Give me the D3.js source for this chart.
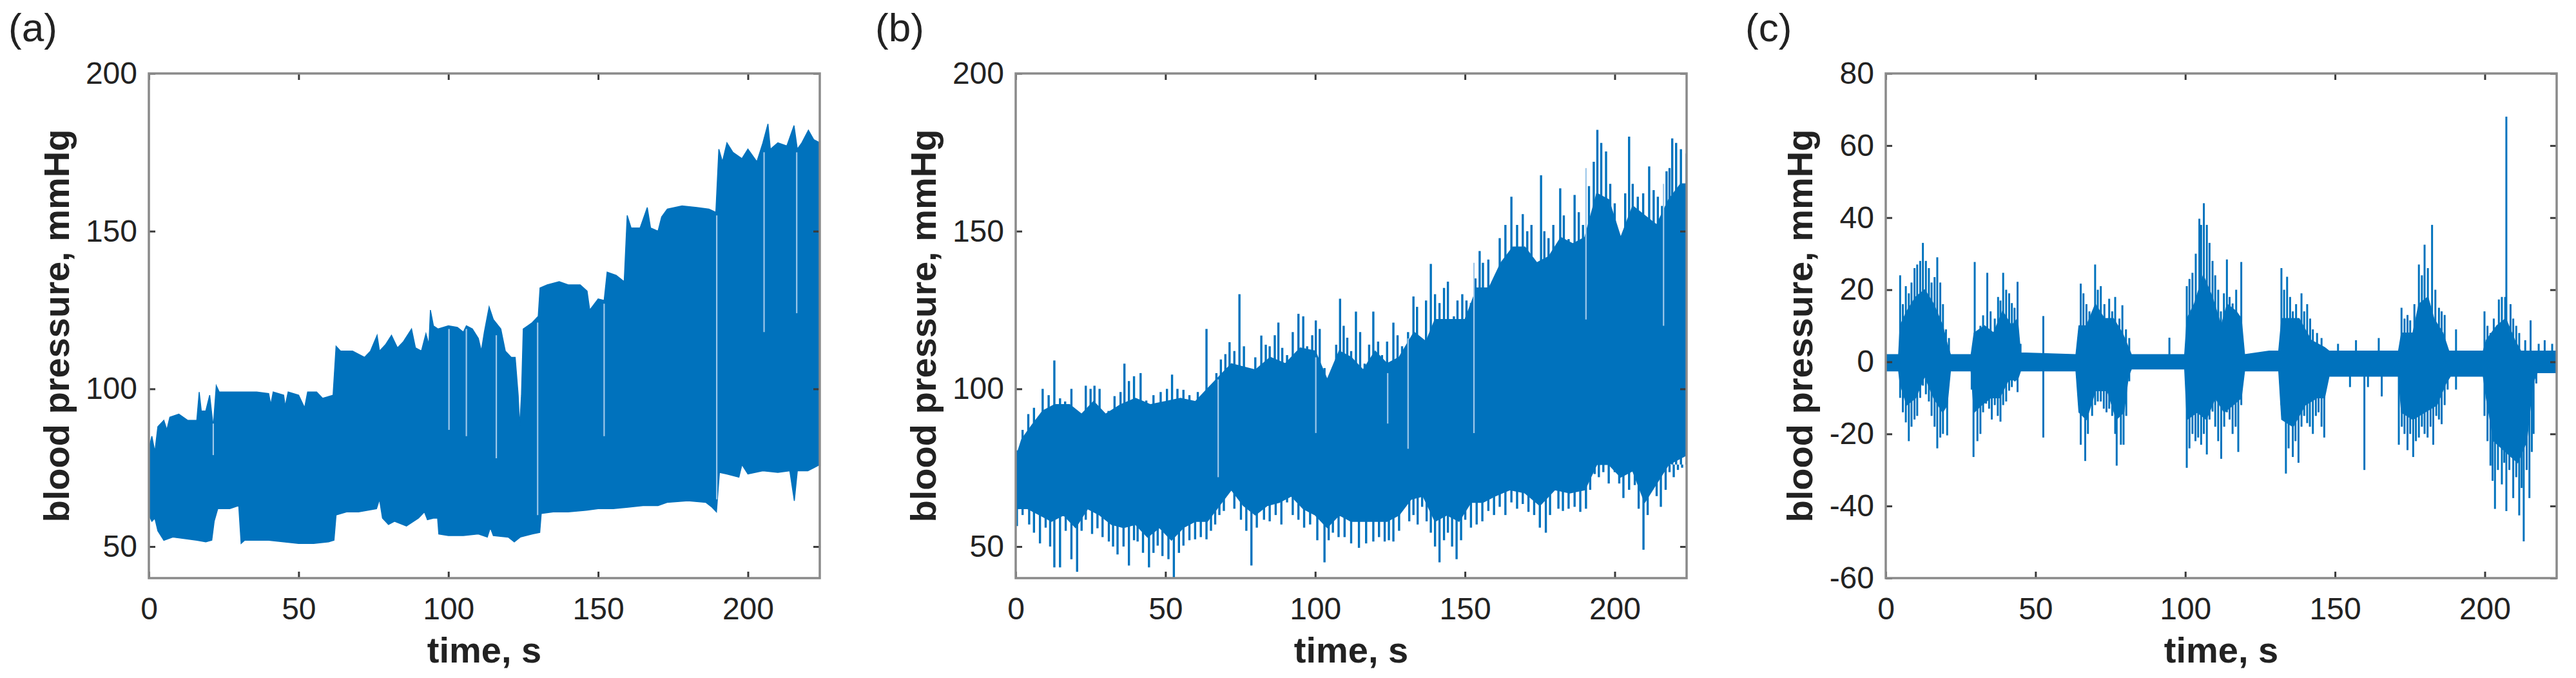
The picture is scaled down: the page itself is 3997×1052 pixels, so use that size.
<!DOCTYPE html>
<html>
<head>
<meta charset="utf-8">
<script src="https://cdn.jsdelivr.net/npm/d3@7"></script>
<style>
  html, body { margin: 0; padding: 0; background: #fff; }
  svg { display: block; }
</style>
</head>
<body>
<svg id="chart" width="3997" height="1052"></svg>
<script>
// ---------------- DATA ----------------
const xTicks = [0, 50, 100, 150, 200];
const yTicksAB = [50, 100, 150, 200];
const yTicksC = [-60, -40, -20, 0, 20, 40, 60, 80];
const yTickLabelsC = ["-60", "-40", "-20", "0", "20", "40", "60", "80"];
const panelLabels = ["(a)", "(b)", "(c)"];
const xTitle = "time, s";
const yTitle = "blood pressure, mmHg";

// Panel (a): upper / lower envelope of the pressure signal [time s, mmHg]
const aCoreUpper = [[0,81],[1,85],[2,80],[3,88],[5,90],[6,87],[7,91],[10,92],[13,90],[16,90],[16.8,99],[17.5,93],[19,93],[20.3,98],[21,92],[21.5,88],[22.5,101],[23.5,99],[30,99],[36,99],[40,98.5],[40.7,95],[41.5,99],[45,98],[45.5,94.5],[46.5,99],[50,98],[52,94],[53,99],[56,99],[58,97],[61.5,98],[62.5,113.5],[64,112],[68,112],[72,110],[74,112],[76.2,117],[77,112],[79,114],[81,117],[83,113],[85,115],[87.7,119],[89,113],[91,112],[92.5,117.5],[93.5,114],[94,125],[95,120],[96.5,119],[100,120],[103,119.5],[105,118],[106,120],[108,119],[110,116],[111,112],[112,118],[113.6,126],[115,122],[117.5,119],[119,112],[121,110],[122.3,110],[123.3,98],[123.8,88],[124.4,98],[125,119],[126.5,120],[128,121],[130,123],[130.6,132],[133,133],[137,134],[140,133],[144,133],[146.3,131],[147.2,125],[148,126],[150,128.5],[152,128],[153,137],[156,136],[158.7,134],[159.7,155],[161,151],[164,151],[166.4,157.5],[167.5,151],[170,150],[171.2,154.5],[173.1,157],[178,158],[183,157.5],[187,157],[189.3,156],[190.3,176],[191.5,172],[193,178],[195,175],[198,173],[200,176],[203,172],[205,178],[206.7,184],[207.5,176],[210,178],[213,177],[215.4,183.5],[216.5,176],[218,178],[220.2,182],[222,179],[224,178]];
const aCoreLower = [[0,60],[1,58],[2,59],[3,55],[5,52],[8,53],[12,52.5],[16,52],[19,51.5],[21,52],[21.8,58],[23,62],[27,62],[30,63],[30.8,51],[32,52],[40,52],[45,51.5],[50,51],[55,51],[60,51.5],[61.8,52],[62.5,60],[66,61],[70,61],[76,62],[77,65],[78,59],[80,57],[82,58],[86,56.5],[90,59],[92,61],[93,58.5],[95,59],[96.4,59],[96.8,54],[100,53.5],[105,53.5],[110,54],[113,53],[114,56],[115,53.5],[120,53],[122,51.5],[124,53],[128,54],[130.5,54.5],[131,60.5],[135,61],[140,61],[146,61.5],[150,62],[155,62],[160,62.5],[165,63],[170,63],[173,64],[180,64.5],[186,64],[188,62.5],[189.5,61],[190.5,73.5],[193,73],[197,72],[198,76],[200,73],[205,74],[210,73.5],[214,74],[215.5,64.5],[216.5,74],[220,74],[222,75],[224,76]];
const aSpikesUp = [];
const aSpikesDown = [];
// light gaps inside the trace: [time, top, bottom]
const aStreaks = [[21.5,89,79],[100.2,119,87],[106,119,85],[116,117,78],[129.8,121,60],[152,127,85],[189.6,155,65],[205.4,175,118],[216.3,175,124]];

// Panel (b): dense core band plus individual peaks
const bCoreUpper = [[0,78],[2,84],[5,88],[9,93],[13,95],[18,95],[22,92],[26,96],[30,92],[35,95],[40,97],[45,95],[50,96],[55,97],[60,96],[64,100],[68,104],[72,108],[76,107],[80,106],[85,110],[90,108],[95,113],[100,112],[104,103],[108,112],[112,110],[116,106],[120,112],[124,108],[128,110],[133,118],[137,115],[140,122],[145,122],[150,122],[154,132],[158,132],[162,140],[166,145],[170,145],[174,140],[178,142],[182,148],[186,146],[190,148],[194,162],[198,160],[202,148],[206,158],[210,155],[214,152],[218,160],[222,165],[224,165]];
const bCoreLower = [[0,62],[4,62],[8,60],[12,58],[16,60],[20,56],[24,62],[28,60],[32,57],[36,56],[40,57],[44,53],[48,56],[52,52],[56,56],[60,58],[64,58],[68,63],[72,68],[76,63],[80,60],[84,63],[88,64],[92,66],[96,62],[100,60],[104,56],[108,60],[112,58],[116,58],[120,58],[124,58],[128,60],[132,65],[136,66],[140,58],[144,60],[148,58],[152,64],[156,64],[160,66],[165,68],[170,67],[175,63],[180,68],[185,67],[190,68],[194,76],[198,76],[202,72],[206,74],[210,64],[214,70],[218,76],[222,78],[224,79]];
const bSpikesUp = [[0.4,80.5],[2.3,87],[4.2,92],[6.1,94],[9,100],[11,98],[12.9,109],[14.8,97],[16.5,96],[18.6,100],[21.5,90],[23.4,101],[25,100],[26.3,101],[28,100],[29.2,92],[31,93],[33,97.7],[35,99],[36.3,108],[37.8,102.5],[39.5,104],[41.7,105],[43.6,96.3],[46,98],[48.4,99],[50.5,100],[52.2,104.5],[54,100],[56,99.7],[58,98],[60.8,99],[62,96],[63.7,119],[65.6,98.4],[67,105],[68.5,109.3],[70,111],[71.4,114.8],[73,112],[74.7,130],[76.2,113.5],[78.1,104],[80,110],[82,116.9],[83.5,114],[84.8,113.5],[86.5,117],[87.7,121],[89,113],[90.6,110.7],[92.5,118],[94.4,123.8],[96,123],[97.3,113.5],[99,117],[100.2,121.7],[101.5,119],[103.1,106.6],[105.9,103.8],[107,114],[108.3,128.6],[109.5,120],[110.7,116.2],[112,112],[113.6,124.5],[115,118],[116.5,108],[118,114],[119.4,124.5],[121,115],[122.3,110.7],[124,115],[126.1,121],[127.5,117],[129,113.5],[131,118],[132.8,129.3],[134,126],[135.7,113.5],[137,128],[138.6,139.6],[140,130],[141.5,127.2],[143,132],[144.3,134],[146.3,123],[147.5,128],[149.1,130],[150.5,128],[152,127.2],[153.5,135],[154.9,143.7],[156,140],[157.8,141],[159.7,134],[161.6,147.8],[163.5,152],[165.5,160.9],[167.4,152],[169.3,155.4],[170.8,150],[172.2,152],[174.1,135.4],[175.4,167.7],[176.5,150],[177.9,147.8],[179.5,152],[181.8,163.6],[183,155],[184.6,147.5],[186.6,161.5],[188,156],[189.4,152],[191.4,164.3],[193,172],[194.2,182.1],[195.5,178],[197.1,175.3],[198.5,165],[200,158.8],[201.9,146.4],[203.5,162],[204.8,180],[206,165],[207.7,160.9],[209.5,162],[211.5,170.5],[213,163],[214.4,160.9],[215.8,158],[217.3,169],[218.3,170],[219.2,179.4],[220.5,178],[222.1,176],[224,174.6]];
const bSpikesDown = [[0.4,56.5],[2.3,60],[4.5,57],[6.1,54.4],[8.1,51],[10,56],[11.5,50],[12.9,43.4],[14.8,43.4],[16.7,55],[18.6,46],[20.5,42],[22,55],[23.4,58.5],[25.5,54],[27.3,55.8],[29,53],[31.1,51.6],[32.5,50],[34,47.5],[36,50],[37.8,44],[39.5,52],[40.7,51.6],[42.5,48],[44.5,43.4],[46,48],[47.4,50.3],[49,47],[51,46],[52.8,39.3],[54.5,48],[56,50.3],[58,52],[59.9,52.3],[61.8,53],[63.7,52.3],[65.2,55],[66.6,57],[68,60],[69.5,61.3],[71.4,69.5],[73,62],[75.2,58.5],[77,55],[78.7,44],[80.5,56],[82.9,58.5],[84.8,58],[86.8,60],[88.7,57],[90.6,64],[92.5,60],[94.4,58.5],[96.3,56],[98.3,57],[100.7,52],[103.1,45],[104.5,52],[105.9,54.4],[107.8,53],[109.8,53],[112,51],[114.6,49.6],[117,51],[119.4,51.6],[121.3,53],[123.2,51.6],[124.6,52],[126.1,51.6],[128,55],[129.9,62.6],[131.4,58],[132.8,60],[134.2,57],[135.7,62.6],[137.2,58],[138.6,54.4],[140,50],[141.5,45],[143,52],[144.3,54.4],[145.7,50],[147.2,46],[148.7,52],[150.1,58.5],[152,56],[153.9,57],[155.8,58],[157.8,61.3],[159.7,60],[161.6,62.6],[163.5,60],[165.5,64],[167.4,62],[169.3,63.5],[171.2,61],[173.1,60],[175,56],[177,54.4],[178.4,60],[179.8,68],[181.2,62],[182.7,61.3],[184.6,62],[186.6,62.6],[188.5,61],[190.4,62],[191.8,68],[193.3,73],[194.7,72],[196.2,73.6],[198,70],[200,73.6],[201.5,70],[202.9,65.4],[204.8,68],[206.7,69.5],[208,62],[209.6,49],[211,60],[212.5,68],[214,66],[215.4,62.6],[217,68],[218.3,73.6],[219.7,72],[221.1,74.3],[222.5,75],[224,77]];
const bStreaks = [[67.6,103,72],[100.2,110,86],[124.2,105,89],[131,116,81],[153,140,86],[190.4,170,122],[216.3,165,120]];

// Panel (c): residual pressure, core band plus individual peaks
const cCoreUpper = [[0,2],[4.3,2],[4.8,10],[7,14],[10,18],[13,20],[16,16],[19,10],[20.5,5],[21.6,2],[28.5,2],[29.5,8],[33,10],[36,8],[39,14],[42,10],[44,12],[45,2.5],[63.5,2],[64.5,10],[67,10],[70,16],[73,12],[76,12],[79,8],[81,4],[82,2],[99.8,2],[100.6,12],[103,16],[106,24],[109,18],[112,10],[114,16],[117,14],[118.7,12],[119.8,2],[128,3],[131.2,3],[132.2,12],[135,12],[138,12],[142,6],[146.5,4],[148,3],[171.2,3],[172.2,8],[176,8],[178,16],[181,18],[183,12],[186,8],[188,3],[199.5,3],[200.5,6],[204,10],[207,12],[210,6],[212,3],[224,3]];
const cCoreLower = [[0,-2.5],[4.3,-2.5],[4.8,-6],[7,-12],[10,-10],[13,-4],[16,-10],[19,-14],[20.5,-12],[21.6,-2.5],[28.5,-2.5],[29.5,-14],[32,-12],[35,-10],[38,-10],[41,-5],[44,-5],[45,-2.5],[63.5,-2.5],[64.5,-14],[67,-16],[70,-8],[74,-8],[77,-16],[79.5,-14],[81,-4],[82,-2],[99.8,-2],[100.6,-16],[104,-14],[107,-16],[110,-10],[113,-14],[116,-12],[118.7,-10],[119.8,-2.5],[131.2,-2.5],[132.2,-16],[136,-18],[140,-12],[144,-10],[146.5,-10],[148,-4],[171.2,-4],[172.2,-14],[176,-16],[180,-14],[184,-12],[187,-6],[188.5,-4],[199.5,-4],[200.5,-10],[203,-22],[207,-25],[211,-28],[214,-22],[216,-6],[217.5,-3],[224,-3]];
const cSpikesUp = [[4.8,24],[5.7,16],[6.7,21],[7.7,19],[8.6,22],[9.6,26],[10.5,27],[11.5,28],[12.4,33],[13.4,28],[14.4,26],[15.3,22],[16.3,23.5],[17.2,29],[18.2,22],[19.1,16],[20.1,9],[21.1,6.6],
  [29.7,27.7],[30.6,8],[31.6,10],[32.5,12.9],[33.9,24.7],[35,14],[36.4,12],[37.5,18],[38.3,17],[39.2,24.7],[40.2,20],[41.2,19],[42.1,16.3],[43,15],[44,22.2],[45,5],[52.6,12.7],
  [65.1,21.7],[66,19],[67,16],[68,14],[69.9,27],[70.8,20],[71.8,21],[73,16],[74.6,17.5],[75.6,14],[76.6,18],[78,12],[79,15.7],[80.2,9],[81.3,6.6],[94.7,6.7],
  [100.5,21],[101.4,23],[102.4,24.7],[103.5,30],[104.7,39.7],[105.3,38],[106.2,44],[107.2,38],[108.1,33],[109.1,28],[110,24],[111,20],[111.9,14],[112.9,19],[113.9,28.4],[114.8,18],[115.8,16.2],[117,20],[118.7,27.7],
  [132.1,26],[133,20],[134,23.6],[135,18],[135.9,14],[137,16],[138.8,19],[139.7,14],[140.7,16],[141.7,12],[142.6,9],[144,8],[145.5,6.6],[151,5],[157,6],[164.6,6.6],
  [172.2,15],[173.2,12],[174.2,13],[175.1,11.5],[176.5,16],[178,27],[179,24],[179.9,32.5],[181,26],[182.4,38],[183.5,20],[184.7,15],[185.6,14],[186.6,13],[190.4,9],
  [199.9,14],[200.9,10],[201.9,8],[203,12],[204.7,17.3],[205.7,18],[206.8,18],[207.2,68],[208.6,16],[209.5,12],[210.5,10],[211.5,8],[213.5,6],[215.3,11.5],[218,5],[220,6],[222.5,5]];
const cSpikesDown = [[4.8,-10],[5.7,-14],[6.7,-16.8],[7.7,-22],[8.6,-18],[9.6,-16],[10.5,-15],[11.5,-10],[12.4,-6.6],[13.4,-9],[14.4,-11],[15.3,-15],[16.3,-18],[17.2,-24],[18.2,-21],[19.1,-20],[20.5,-20.4],
  [28.7,-7.7],[29.3,-26.4],[30.6,-22],[31.6,-20],[32.5,-14],[33.5,-11.6],[34.5,-13],[35.4,-16],[36.4,-12],[37.4,-15],[38.3,-16.6],[39.2,-12],[40.2,-11],[41.2,-8],[42.1,-7],[43.1,-5.4],[44,-8.4],[52.6,-21],
  [65.1,-23],[66.6,-27.5],[67.5,-20],[68.9,-15],[69.9,-12],[70.8,-11],[71.8,-11],[72.8,-13],[73.7,-14],[74.6,-13],[75.6,-15],[76.6,-20],[77.1,-28.8],[78.5,-23],[79.4,-23],[80.3,-15],[81.3,-5.4],
  [100.5,-29.4],[101.4,-24],[102.4,-20],[103.4,-22],[104.3,-21],[105.3,-23],[106.2,-20],[107.2,-25.7],[108.1,-16],[109.1,-13.8],[110,-18],[111,-22],[112,-26.9],[113,-18],[113.9,-14],[114.8,-16],[115.8,-20],[116.8,-18],[117.7,-25],[118.7,-12],
  [132.1,-12],[133.6,-31],[134.5,-24],[135.9,-26.4],[136.8,-22],[137.8,-28],[138.8,-18],[139.7,-15],[140.7,-17],[141.6,-18],[142.6,-20],[143.6,-15],[144.5,-14],[145.5,-18],[146.4,-21],
  [155,-7],[159.8,-30],[161,-7],[165.6,-9.6],
  [171.3,-23],[172.3,-18],[173.2,-20],[174.2,-24.5],[175.1,-20],[176.1,-26.4],[177,-22],[178,-21],[179,-18],[179.9,-20],[180.9,-21],[181.9,-18],[182.8,-23],[183.8,-15],[184.7,-16],[185.6,-17.3],[186.6,-12],[187.6,-7.7],[190.4,-7.7],
  [199.9,-15],[200.9,-22],[201.9,-28.8],[202.6,-33],[203.4,-40.8],[204.4,-30],[205.7,-34],[206.5,-28],[207.2,-41.4],[208.2,-30],[209.5,-37.8],[210.5,-32],[211.5,-42.6],[212.3,-35],[213,-49.8],[214,-30],[214.9,-37.8],[215.7,-25],[216.3,-20],[217.2,-6]];
const cStreaks = [];

// ---------------- LAYOUT ----------------
const svg = d3.select("#chart");
const plotW = 1041, plotTop = 114, plotBottom = 897;
const lefts = [231, 1576, 2926];
const yTitleOffsets = [124, 124, 114];
const lineColor = "#0072BD";
const streakColor = "#9ec8ea";
const font = "'Liberation Sans', Arial, Helvetica, sans-serif";

const panels = [
  { coreUp: aCoreUpper, coreLo: aCoreLower, spUp: aSpikesUp, spDn: aSpikesDown, streaks: aStreaks, base: 80, spikeW: 2.6, yDomain: [40, 200], yTicks: yTicksAB, yLabels: yTicksAB.map(String) },
  { coreUp: bCoreUpper, coreLo: bCoreLower, spUp: bSpikesUp, spDn: bSpikesDown, streaks: bStreaks, base: 76, spikeW: 3.4, yDomain: [40, 200], yTicks: yTicksAB, yLabels: yTicksAB.map(String) },
  { coreUp: cCoreUpper, coreLo: cCoreLower, spUp: cSpikesUp, spDn: cSpikesDown, streaks: cStreaks, base: 0, spikeW: 3, yDomain: [-60, 80], yTicks: yTicksC, yLabels: yTickLabelsC }
];

panels.forEach((p, i) => {
  const left = lefts[i];
  const x = d3.scaleLinear().domain([0, 224]).range([left, left + plotW]);
  const y = d3.scaleLinear().domain(p.yDomain).range([plotBottom, plotTop]);

  const clipId = "clip" + i;
  svg.append("clipPath").attr("id", clipId)
    .append("rect").attr("x", left).attr("y", plotTop).attr("width", plotW).attr("height", plotBottom - plotTop);

  const g = svg.append("g").attr("clip-path", `url(#${clipId})`);

  // individual peaks (vertical strokes from the band centre out to the peak)
  g.selectAll("line.spike").data(p.spUp.concat(p.spDn)).join("line")
    .attr("class", "spike")
    .attr("x1", d => x(d[0])).attr("x2", d => x(d[0]))
    .attr("y1", d => y(d[1])).attr("y2", y(p.base))
    .attr("stroke", lineColor).attr("stroke-width", p.spikeW);

  // dense band
  const line = d3.line().x(d => x(d[0])).y(d => y(d[1]));
  g.append("path")
    .attr("d", line(p.coreUp.concat(p.coreLo.slice().reverse())) + "Z")
    .attr("fill", lineColor)
    .attr("stroke", lineColor)
    .attr("stroke-width", 1.5);

  g.selectAll("line.streak").data(p.streaks).join("line")
    .attr("class", "streak")
    .attr("x1", d => x(d[0])).attr("x2", d => x(d[0]))
    .attr("y1", d => y(d[1])).attr("y2", d => y(d[2]))
    .attr("stroke", streakColor).attr("stroke-width", 2.2);

  // axes with inward ticks
  const tickStyle = sel => {
    sel.select(".domain").remove();
    sel.selectAll(".tick line").attr("stroke", "#3a3a3a").attr("stroke-width", 3);
    sel.selectAll(".tick text").attr("fill", "#222").attr("font-family", font).attr("font-size", 48);
  };
  svg.append("g").attr("transform", `translate(0,${plotBottom})`)
    .call(d3.axisBottom(x).tickValues(xTicks).tickSize(-10).tickPadding(30).tickFormat(d3.format("d")))
    .call(tickStyle);
  svg.append("g").attr("transform", `translate(0,${plotTop})`)
    .call(d3.axisTop(x).tickValues(xTicks).tickSize(-10).tickFormat(""))
    .call(tickStyle);
  svg.append("g").attr("transform", `translate(${left},0)`)
    .call(d3.axisLeft(y).tickValues(p.yTicks).tickSize(-10).tickPadding(18).tickFormat((d, k) => p.yLabels[k]))
    .call(tickStyle);
  svg.append("g").attr("transform", `translate(${left + plotW},0)`)
    .call(d3.axisRight(y).tickValues(p.yTicks).tickSize(-10).tickFormat(""))
    .call(tickStyle);

  // box
  svg.append("rect")
    .attr("x", left).attr("y", plotTop).attr("width", plotW).attr("height", plotBottom - plotTop)
    .attr("fill", "none").attr("stroke", "#8a8a8a").attr("stroke-width", 3.5);

  // titles
  svg.append("text")
    .attr("x", left + plotW / 2).attr("y", 1028)
    .attr("text-anchor", "middle")
    .attr("font-family", font).attr("font-weight", "bold").attr("font-size", 56)
    .attr("fill", "#222")
    .text(xTitle);
  svg.append("text")
    .attr("transform", `translate(${left - yTitleOffsets[i]},${(plotTop + plotBottom) / 2}) rotate(-90)`)
    .attr("text-anchor", "middle")
    .attr("font-family", font).attr("font-weight", "bold").attr("font-size", 56)
    .attr("fill", "#222")
    .text(yTitle);
  svg.append("text")
    .attr("x", left - 218).attr("y", 64)
    .attr("font-family", font).attr("font-size", 62)
    .attr("fill", "#222")
    .text(panelLabels[i]);
});
</script>
</body>
</html>
